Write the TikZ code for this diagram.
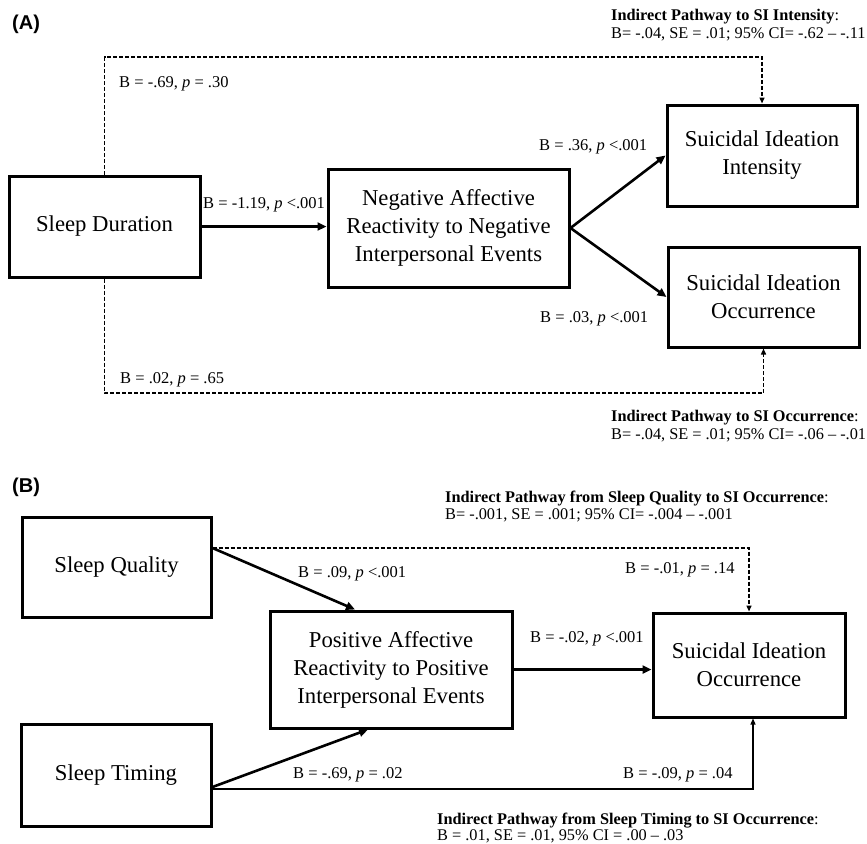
\documentclass[tikz,border=0pt]{standalone}
\usepackage{fontspec}
\setmainfont{Liberation Serif}
\newfontfamily\panelfont{Liberation Sans}
\usetikzlibrary{arrows.meta}
\begin{document}
\begin{tikzpicture}[x=1pt,y=-1pt,
  box/.style={draw,line width=3pt,align=center,inner sep=0pt,
    font=\fontsize{22.7}{28}\selectfont},
  lab/.style={font=\fontsize{16.5}{19}\selectfont,inner sep=0pt,anchor=base west},
  ind/.style={font=\fontsize{16.3}{18}\selectfont,inner sep=0pt,anchor=base west},
  panel/.style={font=\panelfont\bfseries\fontsize{20}{24}\selectfont,inner sep=0pt,anchor=west},
  solidarrow/.style={line width=2.6pt,-{Triangle[length=9pt,width=8pt]}},
  dasharrow/.style={line width=1.4pt,dash pattern=on 4pt off 2pt,-{Triangle[length=6pt,width=5pt]}},
  thinarrow/.style={line width=1.2pt,-{Triangle[length=6pt,width=5pt]}}]
\useasboundingbox (0,0) rectangle (867,843);

% ---------------- Panel A ----------------
\node[panel] (pa) at (12,24) {(A)};
\node[ind] (ia1) at (611,20.5) {\textbf{Indirect Pathway to SI Intensity}:};
\node[ind] (ia2) at (611,38) {B= -.04, SE = .01; 95\% CI= -.62 -- -.11};

\node[box,minimum width=191pt,minimum height=101pt] (sd) at (104.5,226.5) {Sleep Duration};
\node[box,minimum width=241pt,minimum height=118pt] (neg) at (448.5,228) {Negative Affective\\Reactivity to Negative\\Interpersonal Events};
\node[box,minimum width=190pt,minimum height=101pt] (sii) at (762,155.5) {Suicidal Ideation\\Intensity};
\node[box,minimum width=191pt,minimum height=100pt] (sio) at (763.5,297) {Suicidal Ideation\\Occurrence};

\coordinate (topA) at (104.5,57);
\coordinate (botA) at (104.5,393);

\draw[solidarrow] (sd.east) -- (sd.east -| neg.west);
\draw[solidarrow] (neg.east) -- (sii.west);
\draw[solidarrow] (neg.east) -- (sio.west);
\draw[dasharrow] (sd.north) -- (topA) -| (sii.north);
\draw[dasharrow] (sd.south) -- (botA) -| (sio.south);

\node[lab] (la1) at (119,87.5) {B = -.69, \textit{p} = .30};
\node[lab] (la2) at (203,208.5) {B = -1.19, \textit{p} <.001};
\node[lab] (la3) at (539,150.5) {B = .36, \textit{p} <.001};
\node[lab] (la4) at (540,322.5) {B = .03, \textit{p} <.001};
\node[lab] (la5) at (120,383.5) {B = .02, \textit{p} = .65};

\node[ind] (ia3) at (611,421.5) {\textbf{Indirect Pathway to SI Occurrence}:};
\node[ind] (ia4) at (611,439.5) {B= -.04, SE = .01; 95\% CI= -.06 -- -.01};

% ---------------- Panel B ----------------
\node[panel] (pb) at (12,487) {(B)};
\node[ind] (ib1) at (445,502.5) {\textbf{Indirect Pathway from Sleep Quality to SI Occurrence}:};
\node[ind] (ib2) at (445,519) {B= -.001, SE = .001; 95\% CI= -.004 -- -.001};

\node[box,minimum width=189pt,minimum height=100pt] (sq) at (116.5,567) {Sleep Quality};
\node[box,minimum width=242pt,minimum height=117pt] (pos) at (391,669.5) {Positive Affective\\Reactivity to Positive\\Interpersonal Events};
\node[box,minimum width=192pt,minimum height=104pt] (sio2) at (749,665) {Suicidal Ideation\\Occurrence};
\node[box,minimum width=190pt,minimum height=102pt] (st) at (116,775) {Sleep Timing};

\draw[dasharrow] ([yshift=19pt]sq.east) -| (sio2.north);
\draw[solidarrow] ([yshift=19pt]sq.east) -- ([xshift=-36pt]pos.north);
\draw[solidarrow] (pos.east) -- (pos.east -| sio2.west);
\draw[thinarrow] ([yshift=-14pt]st.east) -| ([xshift=4pt]sio2.south);
\draw[solidarrow] ([yshift=-12pt]st.east) -- ([xshift=-23pt]pos.south);

\node[lab] (lb1) at (298,577.5) {B = .09, \textit{p} <.001};
\node[lab] (lb2) at (625,573.5) {B = -.01, \textit{p} = .14};
\node[lab] (lb3) at (530,642.5) {B = -.02, \textit{p} <.001};
\node[lab] (lb4) at (293,778.5) {B = -.69, \textit{p} = .02};
\node[lab] (lb5) at (623,778.5) {B = -.09, \textit{p} = .04};

\node[ind] (ib3) at (437,824) {\textbf{Indirect Pathway from Sleep Timing to SI Occurrence}:};
\node[ind] (ib4) at (437,840) {B = .01, SE = .01, 95\% CI = .00 -- .03};
\end{tikzpicture}
\end{document}
